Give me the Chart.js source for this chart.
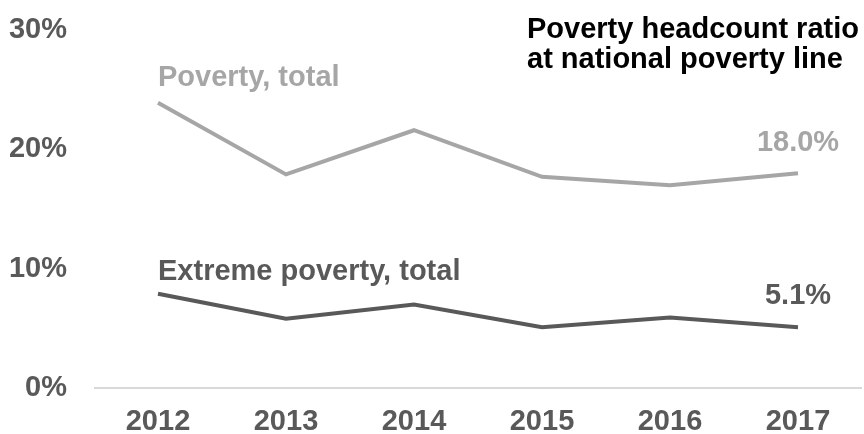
<!DOCTYPE html>
<html>
<head>
<meta charset="utf-8">
<script src="https://cdn.jsdelivr.net/npm/chart.js@4"></script>
<style>
  html, body { margin: 0; padding: 0; background: #fff; overflow: hidden; }
  #wrap { width: 864px; height: 434px; position: relative; }
</style>
</head>
<body>
<div id="wrap"><canvas id="chart"></canvas></div>
<script>
// Data
var years = ['2012', '2013', '2014', '2015', '2016', '2017'];
var povertyTotal = [23.9, 17.9, 21.6, 17.7, 17.0, 18.0];
var extremePoverty = [7.9, 5.8, 7.0, 5.1, 5.9, 5.1];
var yTicks = [0, 10, 20, 30];
var seriesNames = ['Poverty, total', 'Extreme poverty, total'];
var titleLines = ['Poverty headcount ratio', 'at national poverty line'];

var FONT = '"Liberation Sans", Arial, sans-serif';
var LIGHT = '#a6a6a6';
var DARK = '#595959';

// labels drawn next to the lines
var labelPlugin = {
    id: 'labels',
    afterDatasetsDraw: function(chart) {
        var ctx = chart.ctx;
        var x = chart.scales.x;
        var y = chart.scales.y;
        var last = years.length - 1;
        ctx.save();
        ctx.font = 'bold 29px ' + FONT;
        ctx.textBaseline = 'alphabetic';

        // series names over the first point
        ctx.textAlign = 'left';
        ctx.fillStyle = LIGHT;
        ctx.fillText(seriesNames[0], x.getPixelForValue(0), y.getPixelForValue(povertyTotal[0]) - 17);
        ctx.fillStyle = DARK;
        ctx.fillText(seriesNames[1], x.getPixelForValue(0), y.getPixelForValue(extremePoverty[0]) - 14);

        // last values
        ctx.textAlign = 'center';
        ctx.fillStyle = LIGHT;
        ctx.fillText(povertyTotal[last].toFixed(1) + '%', x.getPixelForValue(last), y.getPixelForValue(povertyTotal[last]) - 22);
        ctx.fillStyle = DARK;
        ctx.fillText(extremePoverty[last].toFixed(1) + '%', x.getPixelForValue(last), y.getPixelForValue(extremePoverty[last]) - 23);

        // title
        ctx.textAlign = 'left';
        ctx.fillStyle = '#000';
        ctx.fillText(titleLines[0], 527, 38);
        ctx.fillText(titleLines[1], 527, 68);
        ctx.restore();
    }
};

var chart = new Chart(document.getElementById('chart'), {
    type: 'line',
    data: {
        labels: years,
        datasets: [{
            label: seriesNames[0],
            data: povertyTotal,
            borderColor: LIGHT,
            borderWidth: 4,
            pointRadius: 0,
            tension: 0
        }, {
            label: seriesNames[1],
            data: extremePoverty,
            borderColor: DARK,
            borderWidth: 4,
            pointRadius: 0,
            tension: 0
        }]
    },
    options: {
        responsive: true,
        maintainAspectRatio: false,
        animation: false,
        layout: { padding: { top: 30, right: 2, left: 0, bottom: 0 } },
        plugins: {
            legend: { display: false },
            tooltip: { enabled: false }
        },
        scales: {
            x: {
                offset: true,
                grid: { display: false, drawTicks: false },
                border: { display: false },
                ticks: {
                    color: DARK,
                    padding: 17,
                    maxRotation: 0,
                    font: { family: FONT, size: 29, weight: 'bold' }
                },
                afterFit: function(scale) {
                    scale.height = 46;
                    scale.paddingLeft = 0;
                    scale.paddingRight = 0;
                }
            },
            y: {
                min: 0,
                max: 30,
                afterBuildTicks: function(scale) {
                    scale.ticks = yTicks.map(function(v) { return { value: v }; });
                },
                afterFit: function(scale) {
                    scale.width = 94;
                    scale.paddingTop = 0;
                    scale.paddingBottom = 0;
                },
                grid: {
                    drawTicks: false,
                    lineWidth: 2,
                    color: function(c) { return c.tick && c.tick.value === 0 ? '#d9d9d9' : 'transparent'; }
                },
                border: { display: false },
                ticks: {
                    color: DARK,
                    padding: 27,
                    font: { family: FONT, size: 29, weight: 'bold' },
                    callback: function(v) { return v + '%'; }
                }
            }
        }
    },
    plugins: [labelPlugin]
});
</script>
</body>
</html>
